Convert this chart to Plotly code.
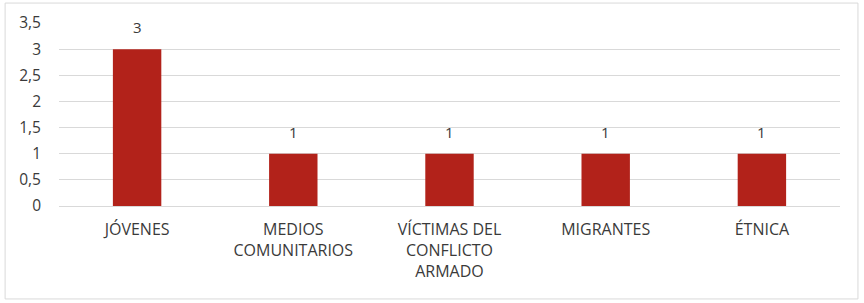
import plotly.graph_objects as go

categories = ["JÓVENES", "MEDIOS<br>COMUNITARIOS", "VÍCTIMAS DEL<br>CONFLICTO<br>ARMADO", "MIGRANTES", "ÉTNICA"]
values = [3, 1, 1, 1, 1]
tick_vals = [0, 0.5, 1, 1.5, 2, 2.5, 3, 3.5]
tick_text = ["0", "0,5", "1", "1,5", "2", "2,5", "3", "3,5"]

font_family = "'Open Sans', sans-serif"
text_color = "#3a3a3a"

fig = go.Figure(go.Bar(
    x=categories,
    y=values,
    marker=dict(color="#B2221A", line=dict(width=0)),
    cliponaxis=False,
))

annotations = [
    dict(x=c, y=v, text=str(v), showarrow=False, xref="x", yref="y",
         yanchor="bottom", yshift=10,
         font=dict(size=15, color=text_color, family=font_family))
    for c, v in zip(categories, values)
]

fig.update_layout(
    width=864, height=303,
    margin=dict(l=59, r=24, t=23, b=97),
    paper_bgcolor="white",
    plot_bgcolor="white",
    bargap=0.69,
    showlegend=False,
    font=dict(family=font_family, size=15, color=text_color),
    separators=",.",
    annotations=annotations,
    shapes=[dict(type="rect", xref="paper", yref="paper",
                 x0=-0.069, x1=1.023, y0=-0.508, y1=1.109,
                 line=dict(color="#d9d9d9", width=1), layer="below")],
)
fig.update_xaxes(
    showgrid=False, showline=False, zeroline=False, ticks="",
    tickangle=0, ticklabelstandoff=12,
    tickfont=dict(size=16, color=text_color),
)
fig.update_yaxes(
    range=[0, 3.5], tickvals=tick_vals, ticktext=tick_text,
    showgrid=True, gridcolor="#d9d9d9", gridwidth=1,
    zeroline=True, zerolinecolor="#d9d9d9", zerolinewidth=1,
    showline=False, ticks="", ticklabelstandoff=17,
    tickfont=dict(size=15.5, color=text_color),
)

fig.write_html("out.html", config={"displayModeBar": False},
               post_script="document.body.style.margin='0';")
